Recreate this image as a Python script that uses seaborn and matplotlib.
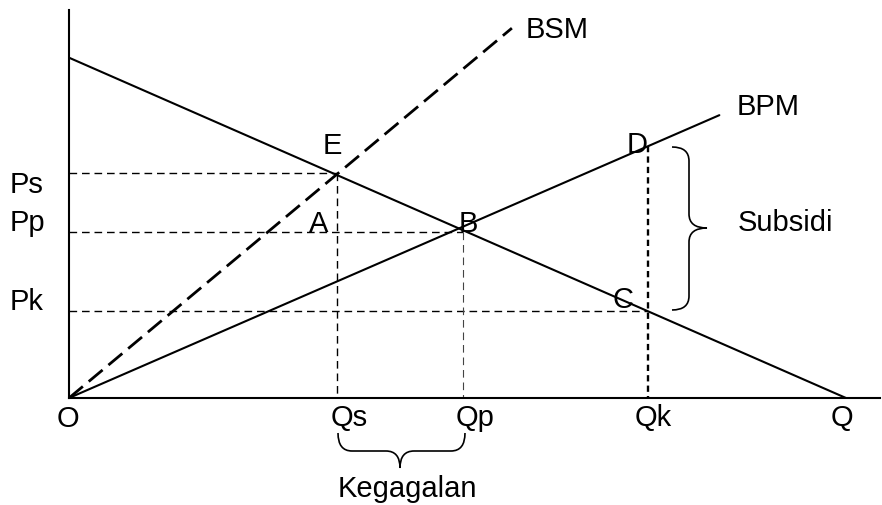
import matplotlib
matplotlib.use("Agg")
import matplotlib.pyplot as plt
from matplotlib.path import Path
from matplotlib.patches import PathPatch
import seaborn as sns
import pandas as pd

# ---- data (chart units) ----
q_labels = ["Qs", "Qp", "Qk", "Q"]
q_values = [34.5, 50.7, 74.5, 100.0]
p_labels = ["Ps", "Pp", "Pk"]
p_values = [29.0, 21.4, 11.2]
demand_x = [0.0, 100.0]
demand_y = [43.8, 0.0]
bsm_x = [0.0, 57.0]
bsm_y = [0.0, 47.6]
bpm_x = [0.0, 83.7]
bpm_y = [0.0, 36.4]
qk_top = 32.4  # point D on BPM

sns.set_style("white")
plt.rcParams['font.family'] = ['Liberation Sans', 'DejaVu Sans']
plt.rcParams['lines.scale_dashes'] = False

W, H = 882, 505
fig = plt.figure(figsize=(W / 100, H / 100), dpi=100)
ox, oy, top, right = 69, 398, 10, 880
S = 7.77
ax = fig.add_axes([ox / W, (H - oy) / H, (right - ox) / W, (oy - top) / H])
ax.set_xlim(0, (right - ox) / S)
ax.set_ylim(0, (oy - top) / S)


def px(x, y):
    return (x - ox) / S, (oy - y) / S


def seg(x, y, **kw):
    d = pd.DataFrame({"x": x, "y": y})
    sns.lineplot(data=d, x="x", y="y", ax=ax, estimator=None, sort=False,
                 errorbar=None, **kw)
    return ax.lines[-1]


# curves
seg(demand_x, demand_y, color="black", lw=1.5)
seg(bpm_x, bpm_y, color="black", lw=1.5)
seg(bsm_x, bsm_y, color="black", lw=2.0).set_dashes([13, 5.5])

# guide lines
ends = [q_values[0], q_values[1], q_values[2]]
for pv, xe in zip(p_values, ends):
    seg([0, xe], [pv, pv], color="black", lw=1.0).set_dashes([5.5, 3.5])

vtops = [p_values[0], p_values[1], qk_top]
vstyle = [(1.0, "black", [5.5, 3.5]), (0.8, "#444444", [5.5, 3.5]), (1.7, "black", [4.5, 3.0])]
for qv, yt, (lw, c, ds) in zip(q_values[:3], vtops, vstyle):
    seg([qv, qv], [yt, 0], color=c, lw=lw).set_dashes(ds)

# axes
for s in ["top", "right"]:
    ax.spines[s].set_visible(False)
for s in ["left", "bottom"]:
    ax.spines[s].set_color("black")
    ax.spines[s].set_linewidth(1.5)
ax.set_xticks([])
ax.set_yticks([])
ax.set_xlabel("")
ax.set_ylabel("")

fs = 21
kw = dict(fontsize=fs, color="black", clip_on=False)
# axis labels
for lab, ypx in zip(p_labels, [185, 223, 302]):
    ax.text(*px(27, ypx), lab, ha="center", va="center", **kw)
for lab, xpx in zip(q_labels, [349, 475, 653, 842]):
    ax.text(*px(xpx, 418), lab, ha="center", va="center", **kw)
ax.text(*px(68, 419), "O", ha="center", va="center", **kw)

# point labels
ax.text(*px(332, 146), "E", ha="center", va="center", **kw)
ax.text(*px(319, 224), "A", ha="center", va="center", **kw)
ax.text(*px(468, 224), "B", ha="center", va="center", **kw)
ax.text(*px(623, 300), "C", ha="center", va="center", **kw)
ax.text(*px(637, 145), "D", ha="center", va="center", **kw)
ax.text(*px(526, 30), "BSM", ha="left", va="center", **kw)
ax.text(*px(737, 107), "BPM", ha="left", va="center", **kw)
ax.text(*px(738, 223), "Subsidi", ha="left", va="center", **kw)
ax.text(*px(407, 489), "Kegagalan", ha="center", va="center", **kw)


# braces (pixel coords -> data)
def brace_v(xe, xs, xt, y1, y0, ym, r=14):
    pts = [(xe, y1), (xs, y1), (xs, y1 + r), (xs, ym - r), (xs, ym), (xt, ym),
           (xs, ym), (xs, ym + r), (xs, y0 - r), (xs, y0), (xe, y0)]
    codes = [Path.MOVETO, Path.CURVE3, Path.CURVE3, Path.LINETO, Path.CURVE3, Path.CURVE3,
             Path.CURVE3, Path.CURVE3, Path.LINETO, Path.CURVE3, Path.CURVE3]
    return Path([px(*p) for p in pts], codes)


def brace_h(x0, x1, xm, ye, ys, yt, r=14):
    pts = [(x0, ye), (x0, ys), (x0 + r, ys), (xm - r, ys), (xm, ys), (xm, yt),
           (xm, ys), (xm + r, ys), (x1 - r, ys), (x1, ys), (x1, ye)]
    codes = [Path.MOVETO, Path.CURVE3, Path.CURVE3, Path.LINETO, Path.CURVE3, Path.CURVE3,
             Path.CURVE3, Path.CURVE3, Path.LINETO, Path.CURVE3, Path.CURVE3]
    return Path([px(*p) for p in pts], codes)


ax.add_patch(PathPatch(brace_v(672, 689, 707, 147, 310, 228), fill=False, lw=1.2,
                       ec="black", clip_on=False))
ax.add_patch(PathPatch(brace_h(338, 465, 400, 433, 451, 468), fill=False, lw=1.2,
                       ec="black", clip_on=False))

fig.savefig("out.png", dpi=100)
